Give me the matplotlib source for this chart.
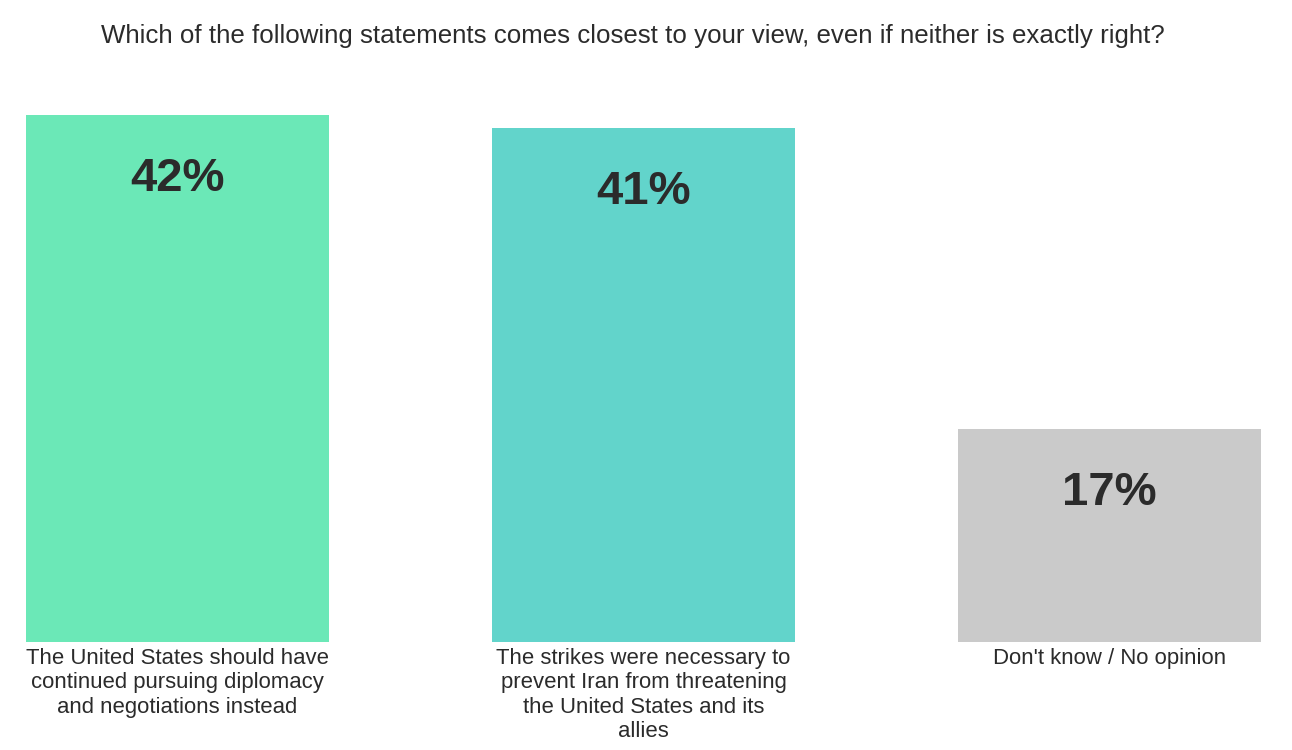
import matplotlib
matplotlib.use("Agg")
import matplotlib.pyplot as plt

title = "Which of the following statements comes closest to your view, even if neither is exactly right?"
categories = [
    "The United States should have\ncontinued pursuing diplomacy\nand negotiations instead",
    "The strikes were necessary to\nprevent Iran from threatening\nthe United States and its\nallies",
    "Don't know / No opinion",
]
values = [42, 41, 17]
value_labels = ["42%", "41%", "17%"]
colors = ["#6be8b7", "#62d4cb", "#cacaca"]

plt.rcParams['font.family'] = ['Liberation Sans', 'DejaVu Sans']
W, H = 1292, 750
fig = plt.figure(figsize=(W / 100, H / 100), dpi=100)
left, right, bottom, top = 26, 1261, 642, 115
ax = fig.add_axes([left / W, (H - bottom) / H, (right - left) / W, (bottom - top) / H])

x = list(range(len(values)))
ax.bar(x, values, width=0.65, color=colors)
ax.set_xlim(-0.325, 2.325)
ax.set_ylim(0, 42)
ax.axis("off")

text_color = "#2b2b2b"
for xi, v, lab in zip(x, values, value_labels):
    ax.annotate(lab, (xi, v), xytext=(0, -64), textcoords="offset pixels",
                ha="center", va="center", fontsize=34, fontweight="bold", color=text_color)
for xi, cat in zip(x, categories):
    ax.annotate(cat, (xi, 0), xytext=(0, -6), textcoords="offset pixels",
                ha="center", va="top", fontsize=15.9, color=text_color, linespacing=1.21)

fig.text(633 / W, 1 - 36 / H, title, ha="center", va="center", fontsize=18.6, color=text_color)

fig.savefig("out.png", dpi=100, facecolor="white")
